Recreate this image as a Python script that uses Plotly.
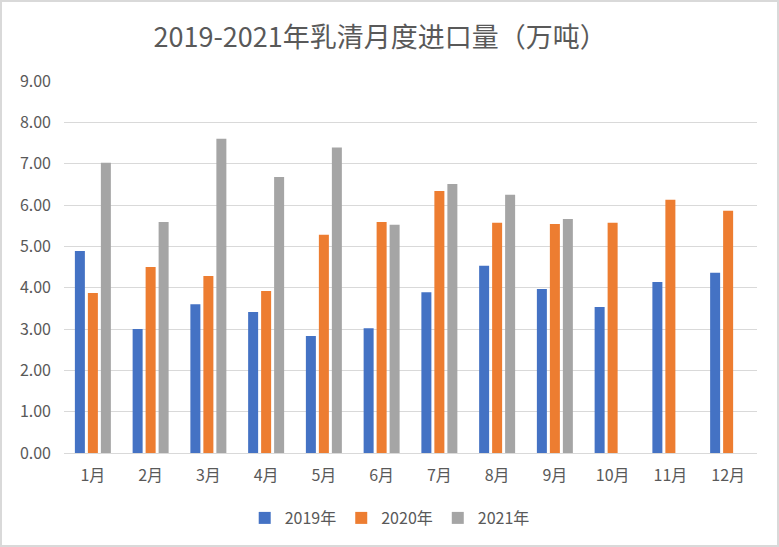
import plotly.graph_objects as go

months = ["1月", "2月", "3月", "4月", "5月", "6月", "7月", "8月", "9月", "10月", "11月", "12月"]
y2019 = [4.89, 3.00, 3.60, 3.41, 2.83, 3.02, 3.89, 4.53, 3.97, 3.53, 4.14, 4.36]
y2020 = [3.87, 4.50, 4.28, 3.92, 5.28, 5.59, 6.34, 5.57, 5.54, 5.57, 6.13, 5.86]
y2021 = [7.02, 5.59, 7.60, 6.68, 7.39, 5.52, 6.51, 6.25, 5.66, None, None, None]
series_names = ["2019年", "2020年", "2021年"]
colors = ["#4472C4", "#ED7D31", "#A5A5A5"]

W, H = 779, 547
ml, mr, mt, mb = 64, 22, 81, 94
pw, ph = W - ml - mr, H - mt - mb

fig = go.Figure()
for name, vals, c in zip(series_names, [y2019, y2020, y2021], colors):
    fig.add_trace(go.Bar(x=months, y=vals, name=name, marker=dict(color=c, line=dict(width=0))))

font = "Noto Sans CJK SC"
fig.update_layout(
    width=W, height=H,
    margin=dict(l=ml, r=mr, t=mt, b=mb),
    paper_bgcolor="white", plot_bgcolor="white",
    barmode="group", bargap=0.325, bargroupgap=0.23,
    title=dict(text="2019-2021年乳清月度进口量（万吨）", x=0.488, xanchor="center",
               y=1 - 38 / H, yanchor="middle",
               font=dict(family=font, size=27, color="#595959")),
    font=dict(family=font, size=16, color="#595959"),
    xaxis=dict(showgrid=False, showline=True, linecolor="#D9D9D9", linewidth=1,
               ticks="", tickfont=dict(size=16, color="#595959"), ticklabelstandoff=8),
    yaxis=dict(range=[0, 9], dtick=1, tickformat=".2f", showgrid=True, gridcolor="#D9D9D9",
               gridwidth=1, zeroline=False, showline=False, ticks="",
               tickfont=dict(size=16, color="#595959"), ticklabelstandoff=12),
    legend=dict(orientation="h", x=0.47, xanchor="center", y=(ph - (518 - mt)) / ph, yanchor="middle",
                font=dict(size=16, color="#595959"), itemwidth=30, traceorder="normal"),
    shapes=[dict(type="rect", xref="paper", yref="paper",
                 x0=(1 - ml) / pw, x1=(W - 1 - ml) / pw,
                 y0=(ph + mt - (H - 1)) / ph, y1=(ph + mt - 1) / ph,
                 line=dict(color="#D9D9D9", width=2), layer="below")],
)

fig.write_html("out.html")
